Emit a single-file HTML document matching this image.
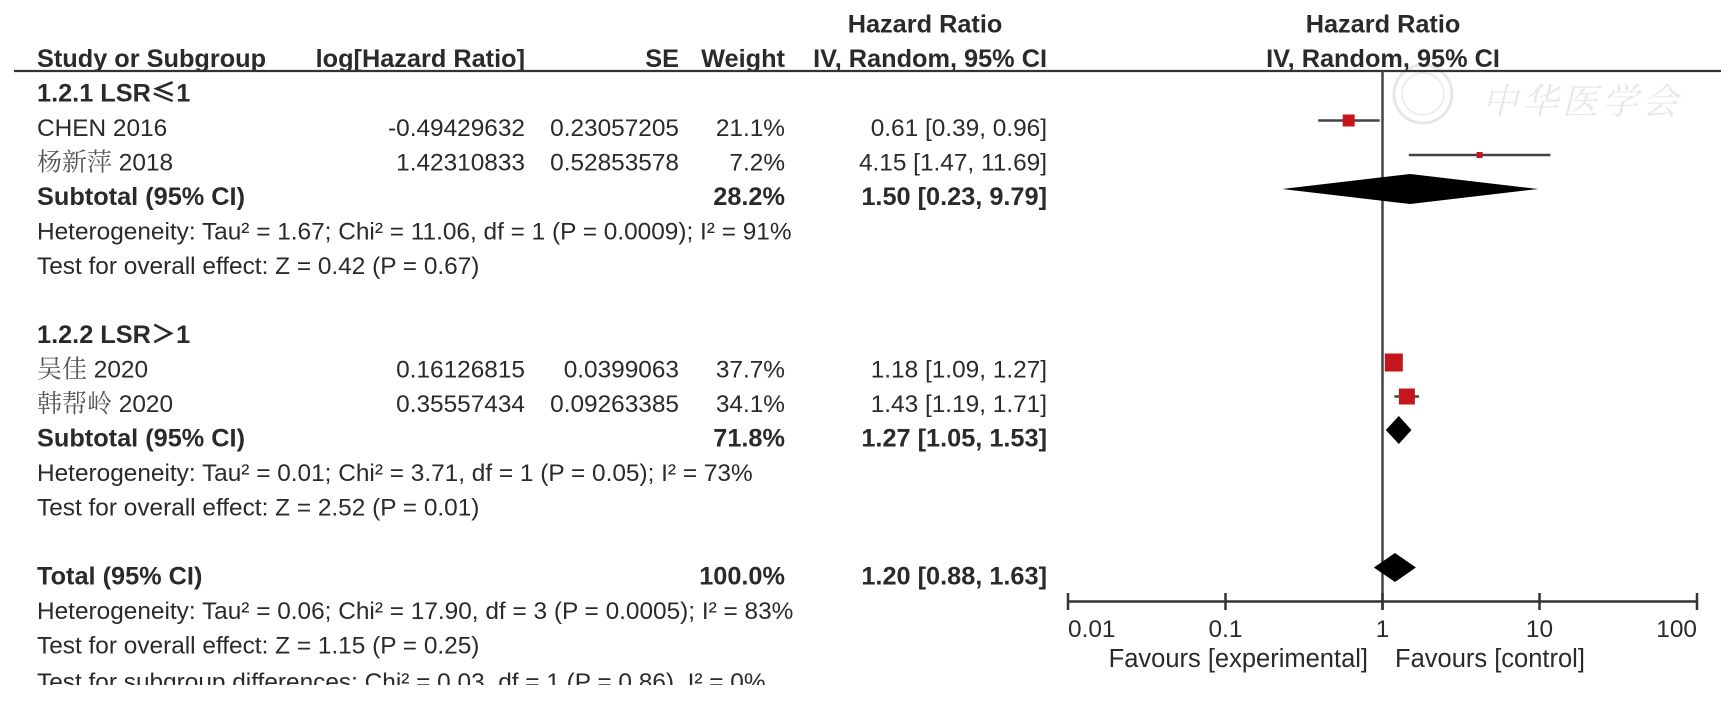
<!DOCTYPE html>
<html>
<head>
<meta charset="utf-8">
<style>
html,body{margin:0;padding:0;background:#fff;}
svg{display:block;}
text{font-family:"Liberation Sans","Noto Sans CJK SC",sans-serif;fill:#2a2a2a;}
.r{font-size:24.4px;}
.b{font-size:25.3px;font-weight:bold;}
.cjk{font-family:"Noto Serif CJK SC","Noto Sans CJK SC",serif;font-size:25px;fill:#555;}
.sym{font-family:"Noto Sans CJK SC",sans-serif;}
</style>
</head>
<body>
<svg width="1734" height="703" viewBox="0 0 1734 703" xmlns="http://www.w3.org/2000/svg">
<rect width="1734" height="703" fill="#ffffff"/>

<!-- watermark -->
<circle cx="1423" cy="94" r="29" fill="none" stroke="#e6e6e6" stroke-width="3"/>
<circle cx="1423" cy="94" r="21" fill="none" stroke="#eeeeee" stroke-width="2"/>
<text x="1482" y="114" style="font-family:'Noto Serif CJK SC',serif;font-size:36px;fill:#e8e8e8;font-style:italic;letter-spacing:4px;">中华医学会</text>

<!-- headers -->
<text class="b" x="925" y="32.5" text-anchor="middle">Hazard Ratio</text>
<text class="b" x="1383" y="32.5" text-anchor="middle">Hazard Ratio</text>
<text class="b" x="37" y="67">Study or Subgroup</text>
<text class="b" x="525" y="67" text-anchor="end">log[Hazard Ratio]</text>
<text class="b" x="679" y="67" text-anchor="end">SE</text>
<text class="b" x="785" y="67" text-anchor="end">Weight</text>
<text class="b" x="1047" y="67" text-anchor="end">IV, Random, 95% CI</text>
<text class="b" x="1383" y="67" text-anchor="middle">IV, Random, 95% CI</text>
<line x1="14" y1="71" x2="1721" y2="71" stroke="#333" stroke-width="2.2"/>

<!-- group 1 -->
<text class="b" x="37" y="101.5">1.2.1 LSR<tspan class="sym">≤</tspan>1</text>

<text class="r" x="37" y="136">CHEN 2016</text>
<text class="r" x="525" y="136" text-anchor="end">-0.49429632</text>
<text class="r" x="679" y="136" text-anchor="end">0.23057205</text>
<text class="r" x="785" y="136" text-anchor="end">21.1%</text>
<text class="r" x="1047" y="136" text-anchor="end">0.61 [0.39, 0.96]</text>

<text class="r" x="37" y="170.5"><tspan class="cjk">杨新萍</tspan> 2018</text>
<text class="r" x="525" y="170.5" text-anchor="end">1.42310833</text>
<text class="r" x="679" y="170.5" text-anchor="end">0.52853578</text>
<text class="r" x="785" y="170.5" text-anchor="end">7.2%</text>
<text class="r" x="1047" y="170.5" text-anchor="end">4.15 [1.47, 11.69]</text>

<text class="b" x="37" y="205">Subtotal (95% CI)</text>
<text class="b" x="785" y="205" text-anchor="end">28.2%</text>
<text class="b" x="1047" y="205" text-anchor="end">1.50 [0.23, 9.79]</text>

<text class="r" x="37" y="239.5">Heterogeneity: Tau² = 1.67; Chi² = 11.06, df = 1 (P = 0.0009); I² = 91%</text>
<text class="r" x="37" y="274">Test for overall effect: Z = 0.42 (P = 0.67)</text>

<!-- group 2 -->
<text class="b" x="37" y="343">1.2.2 LSR＞1</text>

<text class="r" x="37" y="377.5"><tspan class="cjk">吴佳</tspan> 2020</text>
<text class="r" x="525" y="377.5" text-anchor="end">0.16126815</text>
<text class="r" x="679" y="377.5" text-anchor="end">0.0399063</text>
<text class="r" x="785" y="377.5" text-anchor="end">37.7%</text>
<text class="r" x="1047" y="377.5" text-anchor="end">1.18 [1.09, 1.27]</text>

<text class="r" x="37" y="412"><tspan class="cjk">韩帮岭</tspan> 2020</text>
<text class="r" x="525" y="412" text-anchor="end">0.35557434</text>
<text class="r" x="679" y="412" text-anchor="end">0.09263385</text>
<text class="r" x="785" y="412" text-anchor="end">34.1%</text>
<text class="r" x="1047" y="412" text-anchor="end">1.43 [1.19, 1.71]</text>

<text class="b" x="37" y="446.5">Subtotal (95% CI)</text>
<text class="b" x="785" y="446.5" text-anchor="end">71.8%</text>
<text class="b" x="1047" y="446.5" text-anchor="end">1.27 [1.05, 1.53]</text>

<text class="r" x="37" y="481">Heterogeneity: Tau² = 0.01; Chi² = 3.71, df = 1 (P = 0.05); I² = 73%</text>
<text class="r" x="37" y="515.5">Test for overall effect: Z = 2.52 (P = 0.01)</text>

<!-- total -->
<text class="b" x="37" y="584.5">Total (95% CI)</text>
<text class="b" x="785" y="584.5" text-anchor="end">100.0%</text>
<text class="b" x="1047" y="584.5" text-anchor="end">1.20 [0.88, 1.63]</text>
<text class="r" x="37" y="619">Heterogeneity: Tau² = 0.06; Chi² = 17.90, df = 3 (P = 0.0005); I² = 83%</text>
<text class="r" x="37" y="653.5">Test for overall effect: Z = 1.15 (P = 0.25)</text>
<text class="r" x="37" y="690">Test for subgroup differences: Chi² = 0.03, df = 1 (P = 0.86), I² = 0%</text>
<rect x="0" y="685" width="1734" height="18" fill="#ffffff"/>

<!-- plot: null line -->
<line x1="1382.5" y1="71" x2="1382.5" y2="610" stroke="#444" stroke-width="2.5"/>

<!-- CHEN -->
<line x1="1318.2" y1="120.5" x2="1379.7" y2="120.5" stroke="#444" stroke-width="2.5"/>
<rect x="1342.7" y="114.5" width="12" height="12" fill="#c4161c"/>
<!-- Yang -->
<line x1="1408.8" y1="155" x2="1550.4" y2="155" stroke="#444" stroke-width="2.5"/>
<rect x="1476.6" y="152" width="6" height="6" fill="#c4161c"/>
<!-- Subtotal 1 -->
<polygon points="1282.2,189 1410.2,174 1538.3,189 1410.2,204" fill="#000"/>

<!-- Wu -->
<line x1="1388.4" y1="362.5" x2="1398.8" y2="362.5" stroke="#444" stroke-width="2.5"/>
<rect x="1384.8" y="353.5" width="18" height="18" fill="#c4161c"/>
<!-- Han -->
<line x1="1394.4" y1="396.5" x2="1419.1" y2="396.5" stroke="#444" stroke-width="2.5"/>
<rect x="1398.9" y="388.5" width="16" height="16" fill="#c4161c"/>
<!-- Subtotal 2 -->
<polygon points="1385.8,430 1398.8,416 1411.5,430 1398.8,444" fill="#000"/>

<!-- Total -->
<polygon points="1373.8,567.5 1395,553 1415.9,567.5 1395,582" fill="#000"/>

<!-- axis -->
<line x1="1068" y1="601.5" x2="1697" y2="601.5" stroke="#333" stroke-width="2.5"/>
<line x1="1068" y1="593" x2="1068" y2="610" stroke="#333" stroke-width="2.5"/>
<line x1="1225.5" y1="593" x2="1225.5" y2="610" stroke="#333" stroke-width="2.5"/>
<line x1="1382.5" y1="593" x2="1382.5" y2="610" stroke="#333" stroke-width="2.5"/>
<line x1="1539.5" y1="593" x2="1539.5" y2="610" stroke="#333" stroke-width="2.5"/>
<line x1="1697" y1="593" x2="1697" y2="610" stroke="#333" stroke-width="2.5"/>

<text class="r" x="1068" y="637">0.01</text>
<text class="r" x="1225.5" y="637" text-anchor="middle">0.1</text>
<text class="r" x="1382.5" y="637" text-anchor="middle">1</text>
<text class="r" x="1539.5" y="637" text-anchor="middle">10</text>
<text class="r" x="1697" y="637" text-anchor="end">100</text>

<text x="1368" y="667" text-anchor="end" style="font-size:25.5px;">Favours [experimental]</text>
<text x="1395" y="667" style="font-size:25.5px;">Favours [control]</text>
</svg>
</body>
</html>
